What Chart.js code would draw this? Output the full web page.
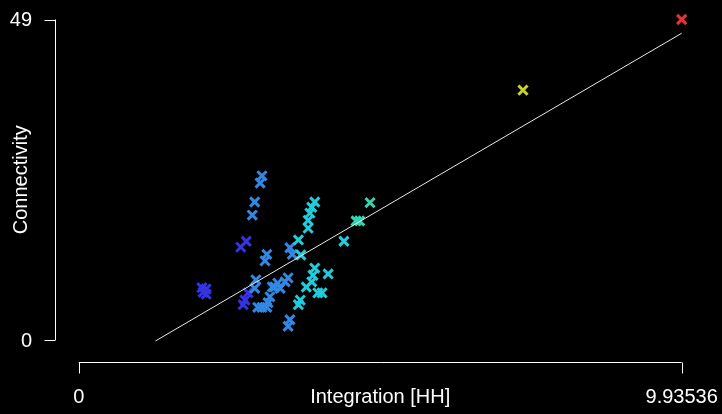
<!DOCTYPE html>
<html>
<head>
<meta charset="utf-8">
<script src="https://cdn.jsdelivr.net/npm/chart.js@4"></script>
<style>
  html, body { margin: 0; padding: 0; background: #000; }
  #wrap { width: 722px; height: 414px; }
</style>
</head>
<body>
<div id="wrap"><canvas id="chart" width="722" height="414"></canvas></div>
<script>
// values
const integration = [3.02, 2.99, 2.90, 2.86, 2.76, 2.67, 3.10, 3.07, 3.48, 3.52,
  3.62, 3.66, 3.89, 3.84, 3.81, 3.78, 3.78, 4.80, 4.63, 4.57,
  4.37, 3.89, 3.86, 4.11, 3.84, 3.75, 3.94, 4.01, 3.65, 3.62,
  3.48, 3.45, 2.03, 2.10, 2.05, 2.10, 2.79, 2.74, 2.71, 2.92,
  2.90, 3.40, 3.45, 3.28, 3.19, 3.32, 3.15, 3.12, 3.02, 2.95,
  3.10, 3.23, 7.32, 9.93536];
const connectivity = [25.1, 24.0, 21.1, 19.1, 15.1, 14.2, 13.1, 12.1, 14.1, 13.1,
  15.3, 13.0, 21.1, 20.3, 19.4, 18.3, 17.1, 21.0, 18.2, 18.2,
  15.1, 11.0, 9.9, 10.1, 8.9, 8.1, 7.2, 7.2, 6.1, 5.4,
  3.1, 2.1, 8.0, 7.8, 7.3, 7.0, 7.2, 6.1, 5.4, 9.2,
  7.9, 8.9, 9.5, 8.7, 8.1, 7.9, 6.6, 5.7, 5.0, 5.0,
  5.0, 8.1, 38.2, 49];
// fitted line end points
const fitX = [1.265, 9.93536];
const fitY = [-0.15, 46.9];
const xTicks = [0, 9.93536];
const xTickLabels = ['0', '9.93536'];
const yTicks = [0, 49];
const yTickLabels = ['0', '49'];

const palette = ['#3434e4', '#3388e4', '#22ccdc', '#33d4b0', '#5cd47a',
  '#98d450', '#c8d42a', '#e0a02c', '#e4682e', '#e43434'];
const xMin = Math.min(...integration), xMax = Math.max(...integration);
function colorFor(x) {
  let b = Math.floor((x - xMin) / (xMax - xMin) * palette.length);
  return palette[Math.min(b, palette.length - 1)];
}

const points = integration.map((x, i) => ({x: x, y: connectivity[i]}));
const fit = fitX.map((x, i) => ({x: x, y: fitY[i]}));

const FONT = '20px "Liberation Sans", Arial, sans-serif';

const rAxes = {
  id: 'rAxes',
  beforeDraw(chart) {
    const c = chart.ctx;
    c.save();
    c.fillStyle = '#000';
    c.fillRect(0, 0, chart.width, chart.height);
    c.restore();
  },
  afterDraw(chart) {
    const c = chart.ctx;
    const xs = chart.scales.x, ys = chart.scales.y;
    c.save();
    c.strokeStyle = '#ffffff';
    c.fillStyle = '#ffffff';
    c.lineWidth = 1;
    c.font = FONT;

    // y axis
    const ax = 55.5;
    const y0 = ys.getPixelForValue(yTicks[0]), y1 = ys.getPixelForValue(yTicks[yTicks.length - 1]);
    c.beginPath();
    c.moveTo(ax, y0); c.lineTo(ax, y1);
    yTicks.forEach(v => {
      const p = Math.round(ys.getPixelForValue(v)) + 0.5;
      c.moveTo(ax, p); c.lineTo(ax - 11, p);
    });
    c.stroke();
    c.textAlign = 'right';
    c.textBaseline = 'middle';
    yTicks.forEach((v, i) => c.fillText(yTickLabels[i], 32, ys.getPixelForValue(v) + 1));

    // x axis
    const ay = 362.5;
    const x0 = xs.getPixelForValue(xTicks[0]), x1 = xs.getPixelForValue(xTicks[xTicks.length - 1]);
    c.beginPath();
    c.moveTo(x0, ay); c.lineTo(x1, ay);
    xTicks.forEach(v => {
      const p = Math.round(xs.getPixelForValue(v)) + 0.5;
      c.moveTo(p, ay); c.lineTo(p, ay + 11);
    });
    c.stroke();
    c.textAlign = 'center';
    xTicks.forEach((v, i) => c.fillText(xTickLabels[i], xs.getPixelForValue(v), 397));

    // titles
    c.fillText('Integration [HH]', (x0 + x1) / 2, 397);
    c.translate(21, (y0 + y1) / 2);
    c.rotate(-Math.PI / 2);
    c.fillText('Connectivity', 0, 0);
    c.restore();
  }
};

new Chart(document.getElementById('chart'), {
  type: 'scatter',
  data: {
    datasets: [
      {
        type: 'line',
        data: fit,
        borderColor: '#e8e8e8',
        borderWidth: 1,
        pointRadius: 0,
        fill: false,
        clip: false
      },
      {
        data: points,
        pointStyle: 'crossRot',
        pointRadius: 6.5,
        pointBorderWidth: 3,
        pointBorderColor: ctx => colorFor(ctx.raw.x),
        pointBackgroundColor: ctx => colorFor(ctx.raw.x),
        clip: false
      }
    ]
  },
  plugins: [rAxes],
  options: {
    responsive: false,
    animation: false,
    layout: { padding: { left: 78.7, right: 40.3, top: 19.5, bottom: 74 } },
    plugins: { legend: { display: false }, tooltip: { enabled: false } },
    scales: {
      x: { type: 'linear', min: 0, max: 9.93536, display: false },
      y: { type: 'linear', min: 0, max: 49, display: false }
    }
  }
});
</script>
</body>
</html>
